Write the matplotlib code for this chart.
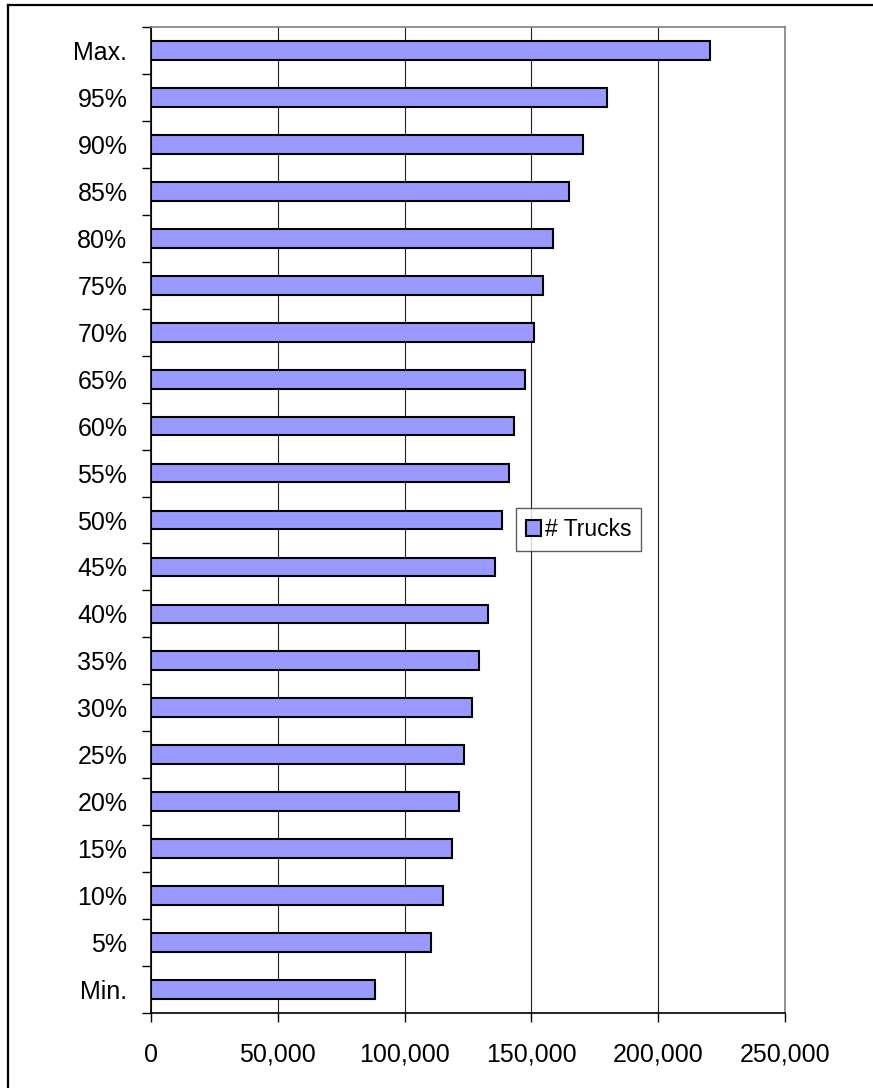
import matplotlib
matplotlib.use("Agg")
import matplotlib.pyplot as plt
from matplotlib.lines import Line2D
from matplotlib.ticker import FuncFormatter, FixedLocator, NullFormatter
import numpy as np

plt.rcParams['font.family'] = ['Liberation Sans', 'DejaVu Sans']

categories = ['Min.', '5%', '10%', '15%', '20%', '25%', '30%', '35%', '40%', '45%',
              '50%', '55%', '60%', '65%', '70%', '75%', '80%', '85%', '90%', '95%', 'Max.']
trucks = [88500, 110300, 115200, 118600, 121500, 123600, 126400, 129200, 132700, 135600,
          138300, 141100, 143300, 147400, 150900, 154600, 158700, 165000, 170500, 179800, 220400]
x_ticks = [0, 50000, 100000, 150000, 200000, 250000]
series_name = '# Trucks'

W, H = 873, 1088
fig = plt.figure(figsize=(W / 100, H / 100), dpi=100)
left, right, top, bottom = 151, 785, 27, 1013
ax = fig.add_axes([left / W, 1 - bottom / H, (right - left) / W, (bottom - top) / H])

y = np.arange(len(categories))
ax.barh(y, trucks, height=0.4, color='#9999FF', edgecolor='black', linewidth=1.5,
        label=series_name, zorder=3)

ax.set_xlim(0, 250000)
ax.set_ylim(-0.5, len(categories) - 0.5)

ax.set_xticks(x_ticks)
ax.xaxis.set_major_formatter(FuncFormatter(lambda v, p: f"{int(v):,}"))
ax.grid(axis='x', color='#222222', linewidth=0.8, zorder=0)
ax.grid(axis='y', visible=False)

ax.set_yticks(y)
ax.set_yticklabels(categories)
ax.yaxis.set_minor_locator(FixedLocator(np.arange(-0.5, len(categories), 1.0)))
ax.yaxis.set_minor_formatter(NullFormatter())
ax.tick_params(axis='y', which='major', length=0, pad=17, labelsize=18)
ax.tick_params(axis='y', which='minor', length=6.5, width=1, direction='out', color='black')
ax.tick_params(axis='x', which='major', length=6.5, width=1, direction='out', pad=15,
               labelsize=18, color='black')

for s in ['top', 'right']:
    ax.spines[s].set_color('#808080')
    ax.spines[s].set_linewidth(1.2)
for s in ['left', 'bottom']:
    ax.spines[s].set_color('black')
    ax.spines[s].set_linewidth(1.2)

leg = fig.legend(loc='upper left', bbox_to_anchor=(516 / W, 1 - 507.7 / H),
                 fontsize=16.5, frameon=True, fancybox=False, edgecolor='#333333',
                 handlelength=0.65, handleheight=0.65, handletextpad=0.15,
                 borderpad=0.45, borderaxespad=0)
leg.get_frame().set_linewidth(1.0)

# outer chart frame (top and left visible)
fig.add_artist(Line2D([8 / W, 1.0], [1 - 5 / H, 1 - 5 / H], color='black', linewidth=1.6,
                      transform=fig.transFigure))
fig.add_artist(Line2D([8 / W, 8 / W], [0, 1 - 5 / H], color='black', linewidth=1.6,
                      transform=fig.transFigure))

fig.savefig('out.png', dpi=100)
